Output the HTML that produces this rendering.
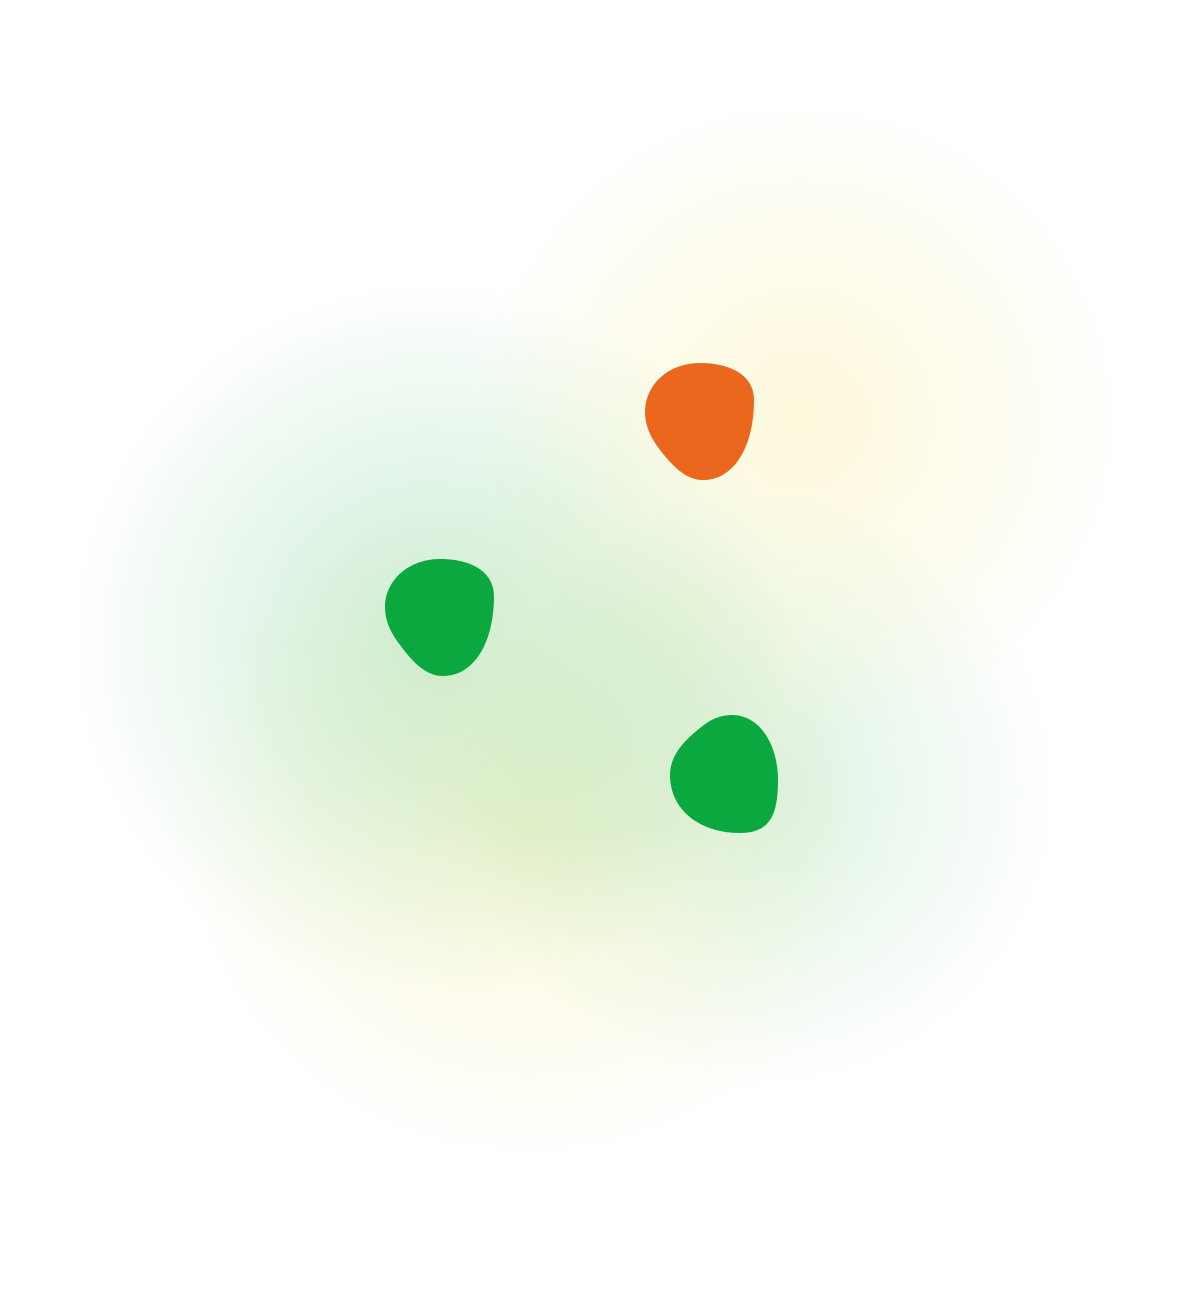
<!DOCTYPE html>
<html>
<head>
<meta charset="utf-8">
<style>
html,body{margin:0;padding:0;background:#fff;}
svg{display:block;}
</style>
</head>
<body>
<svg width="1179" height="1305" viewBox="0 0 1179 1305" xmlns="http://www.w3.org/2000/svg">
  <defs>
    <radialGradient id="gGreen" cx="0.5" cy="0.5" r="0.5">
      <stop offset="0" stop-color="#22b04a" stop-opacity="0.22"/>
      <stop offset="0.5" stop-color="#22b04a" stop-opacity="0.12"/>
      <stop offset="1" stop-color="#22b04a" stop-opacity="0"/>
    </radialGradient>
    <radialGradient id="gGreen2" cx="0.5" cy="0.5" r="0.5">
      <stop offset="0" stop-color="#22b04a" stop-opacity="0.16"/>
      <stop offset="0.5" stop-color="#22b04a" stop-opacity="0.08"/>
      <stop offset="1" stop-color="#22b04a" stop-opacity="0"/>
    </radialGradient>
    <radialGradient id="gYellow" cx="0.5" cy="0.5" r="0.5">
      <stop offset="0" stop-color="#f5e04a" stop-opacity="0.2"/>
      <stop offset="0.5" stop-color="#f5e04a" stop-opacity="0.1"/>
      <stop offset="1" stop-color="#f5e04a" stop-opacity="0"/>
    </radialGradient>
  </defs>
  <g>
    <ellipse cx="800" cy="420" rx="330" ry="330" fill="url(#gYellow)"/>
    <ellipse cx="530" cy="830" rx="360" ry="340" fill="url(#gYellow)"/>
    <ellipse cx="430" cy="640" rx="360" ry="360" fill="url(#gGreen)"/>
    <ellipse cx="760" cy="790" rx="300" ry="300" fill="url(#gGreen2)"/>
  </g>
  <path fill="#EB671D"
    d="M700,363 C730,363 754,375 754,400 C754,445 735,480 703,480 C685,480 672,465 660,450 C650,437 645,425 645,412 C645,385 668,363 700,363 Z"/>
  <path fill="#0BA840"
    d="M440,559 C470,559 494,571 494,596 C494,641 475,676 443,676 C425,676 412,661 400,645 C390,632 385,620 385,607 C385,581 408,559 440,559 Z"/>
  <path fill="#0BA840"
    d="M732,715 C760,715 778,745 778,780 C778,815 770,833 740,833 C700,833 670,810 670,775 C670,755 685,740 700,728 C712,718 722,715 732,715 Z"/>
</svg>
</body>
</html>
